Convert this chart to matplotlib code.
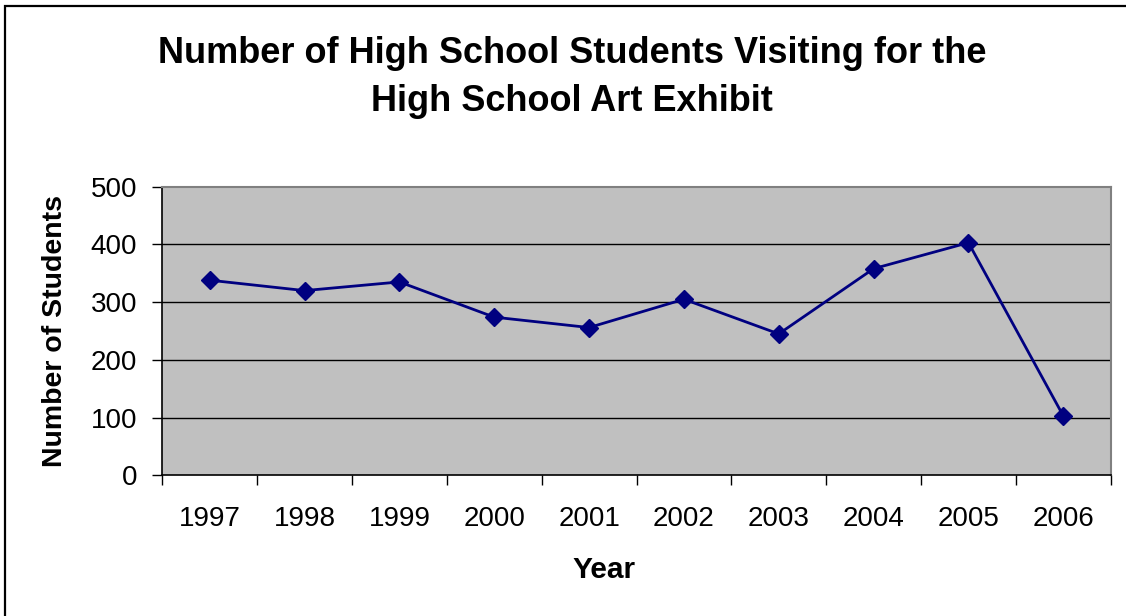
import matplotlib
matplotlib.use("Agg")
import matplotlib.pyplot as plt
from matplotlib.patches import Rectangle

years = ["1997", "1998", "1999", "2000", "2001", "2002", "2003", "2004", "2005", "2006"]
students = [338, 320, 335, 274, 256, 305, 245, 358, 403, 103]
yticks = [0, 100, 200, 300, 400, 500]

plt.rcParams['font.family'] = ['Liberation Sans', 'DejaVu Sans']

W, H = 1126, 616
fig = plt.figure(figsize=(W / 100, H / 100), dpi=100)

# outer frame
fig.patches.append(Rectangle((4.5 / W, -0.1), 1.2, 1 - 6 / H + 0.1, transform=fig.transFigure,
                             fill=False, edgecolor='black', linewidth=1.6))

left, right, top, bottom = 162.3, 1110.7, 186.7, 475.3
ax = fig.add_axes([left / W, 1 - bottom / H, (right - left) / W, (bottom - top) / H])
ax.set_facecolor('#C0C0C0')

x = list(range(len(years)))
ax.plot(x, students, color='#000080', linewidth=2, marker='D', markersize=9,
        markerfacecolor='#000080', markeredgecolor='#000080', zorder=3)

ax.set_xlim(-0.5, len(years) - 0.5)
ax.set_ylim(0, 500)
ax.set_yticks(yticks)
ax.set_yticklabels([str(v) for v in yticks], fontsize=20)
for v in yticks[1:-1]:
    ax.axhline(v, color='black', linewidth=1, zorder=1)

ax.set_xticks(x)
ax.set_xticklabels(years, fontsize=20)
ax.tick_params(axis='x', length=0, pad=22)
ax.set_xticks([i - 0.5 for i in range(len(years) + 1)], minor=True)
ax.tick_params(axis='x', which='minor', length=7, width=1, direction='out', color='black')
ax.tick_params(axis='y', length=7, width=1, direction='out', pad=11)

for s in ['top', 'right']:
    ax.spines[s].set_color('#808080')
    ax.spines[s].set_linewidth(1.5)
for s in ['left', 'bottom']:
    ax.spines[s].set_color('black')
    ax.spines[s].set_linewidth(1.2)

fig.text(572 / W, 1 - 63.3 / H, "Number of High School Students Visiting for the",
         ha='center', va='baseline', fontsize=26, fontweight='bold')
fig.text(572 / W, 1 - 110.7 / H, "High School Art Exhibit",
         ha='center', va='baseline', fontsize=26, fontweight='bold')
fig.text(604 / W, 1 - 578 / H, "Year", ha='center', va='baseline', fontsize=21.5, fontweight='bold')
fig.text(55 / W, 1 - 331 / H, "Number of Students", ha='center', va='center',
         rotation=90, fontsize=20.5, fontweight='bold')

fig.savefig("out.png", dpi=100)
